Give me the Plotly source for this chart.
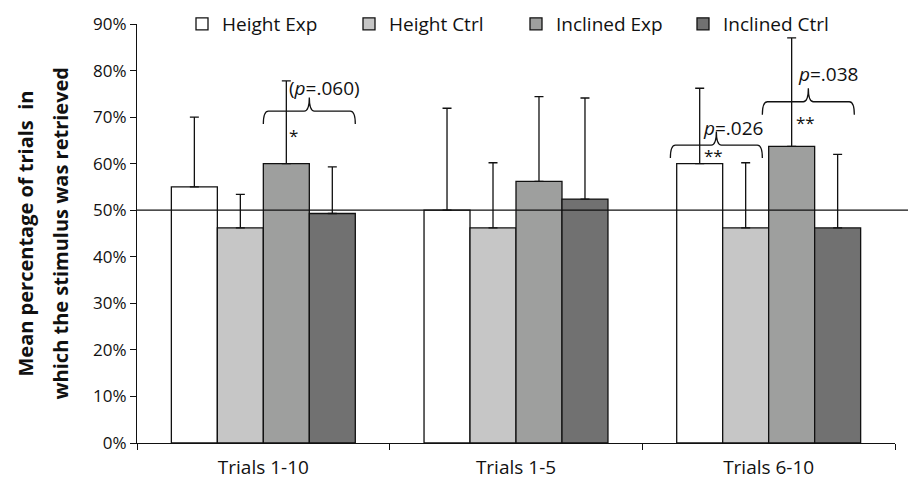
import plotly.graph_objects as go

# ---------------- data ----------------
categories = ["Trials 1-10", "Trials 1-5", "Trials 6-10"]
series_names = ["Height Exp", "Height Ctrl", "Inclined Exp", "Inclined Ctrl"]
height_exp = [55.0, 50.0, 60.0]
height_ctrl = [46.2, 46.2, 46.2]
inclined_exp = [60.0, 56.2, 63.7]
inclined_ctrl = [49.3, 52.4, 46.2]
err_height_exp = [15.0, 21.9, 16.2]
err_height_ctrl = [7.2, 14.0, 14.0]
err_inclined_exp = [17.8, 18.2, 23.3]
err_inclined_ctrl = [10.0, 21.7, 15.8]
y_ticks = [0, 10, 20, 30, 40, 50, 60, 70, 80, 90]
y_tick_labels = [f"{v}%" for v in y_ticks]
chance_level = 50
# significance marks: (category, first bar, last bar, p label, label x offset, label y,
#                      brace y, star, star x offset, star y)
brackets = [
    (0, 2, 3, "(<i>p</i>=.060)", 0.241, 76.3, 71.3, "*", 0.119, 66.1),
    (2, 0, 1, "<i>p</i>=.026", -0.142, 67.6, 64.0, "**", -0.218, 61.8),
    (2, 2, 3, "<i>p</i>=.038", 0.236, 79.3, 73.3, "**", 0.145, 68.8),
]

values = [height_exp, height_ctrl, inclined_exp, inclined_ctrl]
errors = [err_height_exp, err_height_ctrl, err_inclined_exp, err_inclined_ctrl]
colors = ["#ffffff", "#c6c6c6", "#9e9f9e", "#717171"]

FONT = "Open Sans"
INK = "#111111"
BARGAP = 0.272
OFF = 8  # page body margin
W, H = 916 - OFF, 480 - OFF
PL, PR, PT, PB = 137 - OFF, 895 - OFF, 24 - OFF, 443 - OFF


def px2paper(px):
    return (px - OFF - PL) / (PR - PL)


fig = go.Figure()
for name, vals, errs, col in zip(series_names, values, errors, colors):
    fig.add_trace(go.Bar(
        name=name, x=categories, y=vals,
        marker=dict(color=col, line=dict(color=INK, width=1.3)),
        error_y=dict(type="data", array=errs, arrayminus=[0] * len(errs),
                     symmetric=False, color=INK, thickness=1.3, width=4.5),
    ))

# 50% reference line
fig.add_shape(type="line", xref="paper", yref="y", x0=0, x1=px2paper(916),
              y0=chance_level, y1=chance_level, line=dict(color=INK, width=1.3))

# braces and labels
group_w = 1 - BARGAP
bar_w = group_w / 4


def bar_left(i, j):
    return i - group_w / 2 + j * bar_w


for (ci, j0, j1, lab, lx, ly, yb, star, sx, sy) in brackets:
    x0 = bar_left(ci, j0)
    x1 = bar_left(ci, j1) + bar_w
    if ci == 2:
        x0 -= 0.025
        x1 -= 0.025
    xm = (x0 + x1) / 2
    ye = yb - 2.8
    yp = yb + 2.9
    r = 0.02
    path = (f"M{x0},{ye} Q{x0},{yb} {x0 + r},{yb} L{xm - r},{yb} "
            f"Q{xm},{yb} {xm},{yp} Q{xm},{yb} {xm + r},{yb} "
            f"L{x1 - r},{yb} Q{x1},{yb} {x1},{ye}")
    fig.add_shape(type="path", xref="x", yref="y", path=path,
                  line=dict(color=INK, width=1.3))
    fig.add_annotation(x=ci + lx, y=ly, xref="x", yref="y", text=lab,
                       showarrow=False, xanchor="center", yanchor="middle",
                       font=dict(family=FONT, size=19, color=INK))
    fig.add_annotation(x=ci + sx, y=sy, xref="x", yref="y", text=star,
                       showarrow=False, xanchor="center", yanchor="middle",
                       font=dict(family=FONT, size=17, color=INK))

# y-axis title (two lines)
fig.add_annotation(x=px2paper(25), y=0.5, xref="paper", yref="paper",
                   xanchor="center", yanchor="middle",
                   text="<b>Mean percentage of trials  in</b>",
                   textangle=-90, showarrow=False, font=dict(family=FONT, size=20, color=INK))
fig.add_annotation(x=px2paper(60), y=0.5, xref="paper", yref="paper",
                   xanchor="center", yanchor="middle",
                   text="<b>which the stimulus was retrieved</b>",
                   textangle=-90, showarrow=False, font=dict(family=FONT, size=20, color=INK))

fig.update_layout(
    width=W, height=H,
    margin=dict(l=PL, r=W - PR, t=PT, b=H - PB, autoexpand=False),
    paper_bgcolor="white", plot_bgcolor="white",
    barmode="group", bargap=BARGAP, bargroupgap=0,
    font=dict(family=FONT, size=17, color=INK),
    showlegend=True,
    legend=dict(orientation="h", x=px2paper(182), xanchor="left", y=1.0, yanchor="middle",
                font=dict(family=FONT, size=19, color=INK),
                entrywidth=122, bgcolor="rgba(0,0,0,0)", traceorder="normal"),
    xaxis=dict(type="category", tickson="boundaries", ticks="outside", ticklen=6,
               tickcolor=INK, showline=True, linecolor=INK, linewidth=1.3,
               ticklabelstandoff=7,
               showgrid=False, tickfont=dict(family=FONT, size=19, color=INK)),
    yaxis=dict(range=[0, 90], tickmode="array", tickvals=y_ticks, ticktext=y_tick_labels,
               ticks="outside", ticklen=6,
               tickcolor=INK, showline=True, linecolor=INK, linewidth=1.3,
               showgrid=False, zeroline=False,
               tickfont=dict(family=FONT, size=17, color=INK)),
)

fig.write_html("out.html")
